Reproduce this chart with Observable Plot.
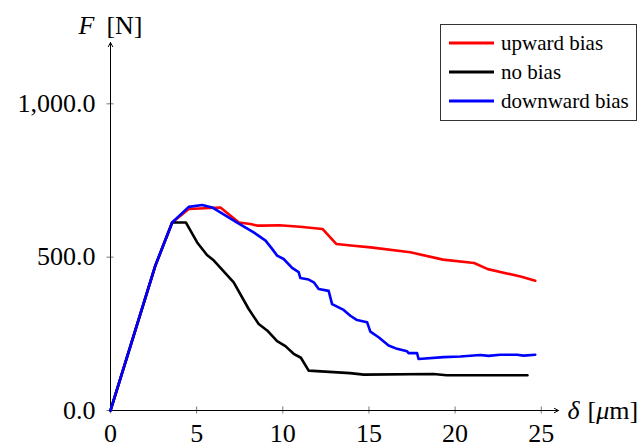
<!DOCTYPE html>
<html>
<head>
<meta charset="utf-8">
<script src="https://cdn.jsdelivr.net/npm/d3@7"></script>
<script src="https://cdn.jsdelivr.net/npm/@observablehq/plot@0.6"></script>
<style>
  html, body { margin: 0; padding: 0; background: white; }
  #wrap { position: relative; width: 641px; height: 448px; overflow: hidden; }
</style>
</head>
<body>
<div id="wrap"></div>
<script>
const seriesNames = ["upward bias", "no bias", "downward bias"];
const seriesColors = ["#ff0000", "#000000", "#0000ff"];

const redX = [0, 2.6, 3.58, 4.54, 6.38, 7.45, 8.12, 8.5, 8.9, 9.8, 11.0, 12.3, 13.1, 14.1, 15.1, 17.4, 19.3, 21.1, 21.9, 23.0, 23.8, 24.65];
const redY = [0, 472, 613, 657, 662, 613, 608, 603, 603, 604, 599, 592, 543, 537, 532, 516, 492, 481, 461, 447, 437, 423];

const blackX = [0, 2.6, 3.58, 4.38, 5.03, 5.6, 6.0, 7.15, 8.02, 8.6, 9.09, 9.67, 10.15, 10.63, 11.05, 11.5, 13.9, 14.7, 18.75, 19.5, 24.2];
const blackY = [0, 472, 613, 613, 548, 507, 489, 418, 331, 282, 261, 226, 210, 185, 172, 130, 122, 117, 119, 115, 115];

const blueX = [0, 2.6, 3.58, 4.54, 5.32, 5.9, 7.35, 8.31, 9.0, 9.38, 9.67, 10.05, 10.54, 10.92, 11.02, 11.5, 11.8, 12.08, 12.66, 12.86, 13.53, 13.92, 14.31, 14.89, 15.08, 15.56, 16.14, 16.63, 17.21, 17.3, 17.79, 17.88, 19.33, 20.3, 21.46, 21.94, 22.62, 23.59, 23.97, 24.65];
const blueY = [0, 472, 613, 664, 670, 662, 613, 581, 554, 527, 505, 494, 465, 451, 432, 427, 418, 396, 390, 347, 328, 309, 295, 288, 257, 239, 212, 201, 193, 187, 187, 168, 174, 176, 181, 178, 182, 182, 179, 182];

const xTicks = [0, 5, 10, 15, 20, 25];
const yTicks = [0, 500, 1000];
const xMax = 26, yMax = 1200;

const toRows = (xs, ys) => xs.map((x, i) => ({x, y: ys[i]}));
const series = [toRows(redX, redY), toRows(blackX, blackY), toRows(blueX, blueY)];

const serif = "'Liberation Serif', serif";

const svg = Plot.plot({
  width: 641, height: 448,
  marginLeft: 110, marginRight: 83, marginTop: 42, marginBottom: 38,
  x: {domain: [0, xMax]},
  y: {domain: [0, yMax]},
  style: {fontFamily: serif, fontSize: "26px", background: "white", overflow: "visible", color: "black"},
  marks: [
    Plot.axisX({ticks: xTicks, tickSize: 0, tickPadding: 13, tickFormat: d => String(d), label: null, fontSize: 26}),
    Plot.axisY({ticks: yTicks, tickSize: 0, tickPadding: 15, tickFormat: d3.format(",.1f"), label: null, fontSize: 26}),
    Plot.ruleX(xTicks, {x: d => d, y1: 0, y2: 0, insetTop: -3.5, insetBottom: -3.5, stroke: "#555", strokeWidth: 0.8}),
    Plot.ruleY(yTicks, {y: d => d, x1: 0, x2: 0, insetLeft: -3.5, insetRight: -3.5, stroke: "#555", strokeWidth: 0.8}),
    Plot.arrow([0], {x1: 0, y1: 0, x2: xMax, y2: 0, stroke: "black", strokeWidth: 1, headLength: 7, headAngle: 55}),
    Plot.arrow([0], {x1: 0, y1: 0, x2: 0, y2: yMax, stroke: "black", strokeWidth: 1, headLength: 7, headAngle: 55}),
    ...series.map((s, i) => Plot.line(s, {x: "x", y: "y", stroke: seriesColors[i], strokeWidth: 2.6, strokeLinejoin: "round"})),
    Plot.text(["F [N]"], {text: d => d, frameAnchor: "top-left", textAnchor: "middle", lineAnchor: "bottom", dy: -9, fontSize: 26}),
    Plot.text(["δ [μm]"], {text: d => d, frameAnchor: "bottom-right", textAnchor: "start", lineAnchor: "middle", dx: 9, dy: 0, fontSize: 26})
  ]
});

// rich text for axis labels
svg.querySelectorAll("text").forEach(t => {
  if (t.textContent === "F [N]") {
    t.innerHTML = '<tspan font-style="italic">F</tspan><tspan dx="12">[N]</tspan>';
  } else if (t.textContent === "δ [μm]") {
    t.innerHTML = '<tspan font-style="italic">δ</tspan><tspan dx="8">[</tspan><tspan font-style="italic">μ</tspan><tspan>m]</tspan>';
  }
});

// legend drawn inside the svg
const lg = d3.select(svg).append("g")
  .style("font-family", serif).style("font-size", "21px").attr("text-anchor", "start");
lg.append("rect").attr("x", 440.5).attr("y", 24.5).attr("width", 196).attr("height", 96)
  .attr("fill", "white").attr("stroke", "#333").attr("stroke-width", 1);
seriesNames.forEach((name, i) => {
  const cy = 43 + i * 29;
  lg.append("line").attr("x1", 449).attr("x2", 494).attr("y1", cy).attr("y2", cy)
    .attr("stroke", seriesColors[i]).attr("stroke-width", 3);
  lg.append("text").attr("x", 501).attr("y", cy).attr("dy", "0.32em")
    .attr("text-anchor", "start").attr("fill", "black").text(name);
});

document.getElementById("wrap").appendChild(svg);
</script>
</body>
</html>
